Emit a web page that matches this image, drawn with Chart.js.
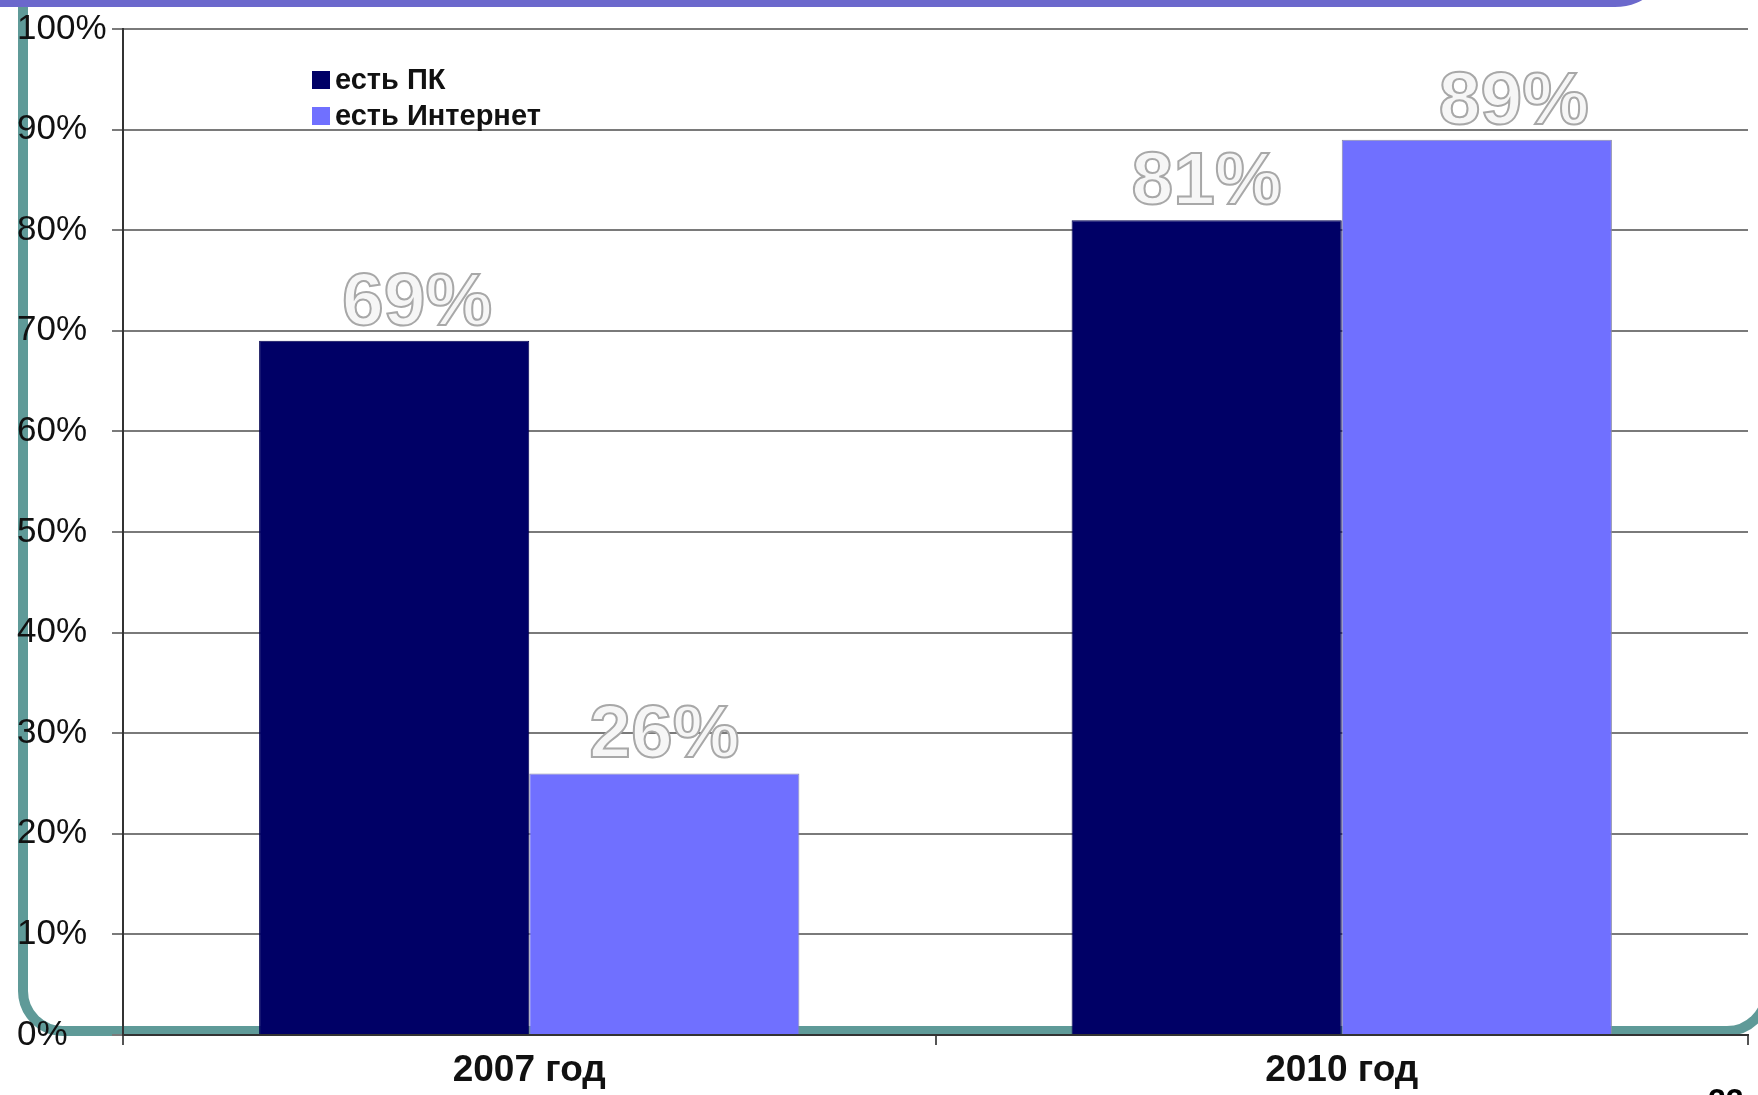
<!DOCTYPE html>
<html>
<head>
<meta charset="utf-8">
<script src="https://cdn.jsdelivr.net/npm/chart.js@4/dist/chart.umd.min.js"></script>
<style>
  body { margin: 0; background: #fff; overflow: hidden; }
  #wrap { position: relative; width: 1758px; height: 1095px; overflow: hidden; }
  #frame { position: absolute; left: 18px; top: -60px; width: 1754px; height: 1096px;
    box-sizing: border-box; border: 10px solid #5f9a98; border-radius: 45px; z-index: 0; }
  #topbar { position: absolute; left: -20px; top: -50px; width: 1692px; height: 57px;
    background: #6b68cc; border-bottom-right-radius: 60px; z-index: 2; }
  #page { position: absolute; left: 1708px; top: 1082px; font: bold 32px "Liberation Sans", Arial, sans-serif;
    color: #000; z-index: 2; }
  #chart { position: absolute; left: 0; top: 0; z-index: 1; }
</style>
</head>
<body>
<div id="wrap">
  <div id="frame"></div>
  <canvas id="chart" width="1758" height="1095"></canvas>
  <div id="topbar"></div>
  <div id="page">22</div>
</div>
<script>
// data
var years = ['2007 год', '2010 год']
var seriesNames = ['есть ПК', 'есть Интернет']
var pcValues = [69, 81]
var netValues = [26, 89]
var yTicks = [0, 10, 20, 30, 40, 50, 60, 70, 80, 90, 100]

var colors = ['#000066', '#7070ff']

// legend drawn inside plot, top-left like the original
var innerLegend = {
  id: 'innerLegend',
  afterDraw: function (chart, args, opts) {
    var ctx = chart.ctx
    ctx.save()
    ctx.font = 'bold 29px "Liberation Sans", Arial, sans-serif'
    ctx.textBaseline = 'middle'
    chart.data.datasets.forEach(function (ds, i) {
      var y = opts.y + i * opts.row
      ctx.fillStyle = ds.backgroundColor
      ctx.fillRect(opts.x, y - 9, 18, 18)
      ctx.fillStyle = '#111'
      ctx.fillText(ds.label, opts.x + 23, y + 1)
    })
    ctx.restore()
  }
}

// outlined value labels above bars (slightly nudged like the slide)
var valueLabels = {
  id: 'valueLabels',
  afterDatasetsDraw: function (chart, args, opts) {
    var ctx = chart.ctx
    ctx.save()
    ctx.font = 'bold 75px "Liberation Sans", Arial, sans-serif'
    ctx.textAlign = 'center'
    ctx.textBaseline = 'alphabetic'
    ctx.lineWidth = 2
    chart.data.datasets.forEach(function (ds, i) {
      chart.getDatasetMeta(i).data.forEach(function (bar, j) {
        var txt = ds.data[j] + '%'
        var dx = opts.shift[i][j]
        ctx.fillStyle = '#f6f6f6'
        ctx.strokeStyle = '#a8a8a8'
        ctx.fillText(txt, bar.x + dx, bar.y - 16)
        ctx.strokeText(txt, bar.x + dx, bar.y - 16)
      })
    })
    ctx.restore()
  }
}

var chart = new Chart(document.getElementById('chart'), {
  type: 'bar',
  data: {
    labels: years,
    datasets: [
      { label: seriesNames[0], data: pcValues, backgroundColor: colors[0], borderColor: '#000050', borderWidth: 1 },
      { label: seriesNames[1], data: netValues, backgroundColor: colors[1], borderColor: '#8a8aa8', borderWidth: 1 }
    ]
  },
  options: {
    responsive: false,
    animation: false,
    categoryPercentage: 0.665,
    barPercentage: 1.0,
    layout: { padding: { top: 29, right: 10, left: 17, bottom: 0 } },
    plugins: {
      legend: { display: false },
      tooltip: { enabled: false },
      innerLegend: { x: 312, y: 80, row: 36 },
      valueLabels: { shift: [[23, 0], [0, 37]] }
    },
    scales: {
      x: {
        afterFit: function (s) { s.height = 60 },
        grid: { display: true, offset: true, drawOnChartArea: false, drawTicks: true, tickLength: 10, color: '#555', lineWidth: 2 },
        border: { color: '#333', width: 2 },
        ticks: {
          color: '#111',
          padding: 4,
          font: { family: '"Liberation Sans", Arial, sans-serif', size: 37, weight: 'bold' }
        }
      },
      y: {
        min: 0,
        max: 100,
        afterFit: function (s) { s.width = 106 },
        afterBuildTicks: function (s) { s.ticks = yTicks.map(function (v) { return { value: v } }) },
        grid: { color: '#7a7a7a', lineWidth: 2, tickLength: 11 },
        border: { color: '#333', width: 2 },
        ticks: {
          color: '#111',
          padding: 4,
          crossAlign: 'far',
          font: { family: '"Liberation Sans", Arial, sans-serif', size: 35 },
          callback: function (v) { return v + '%' }
        }
      }
    }
  },
  plugins: [innerLegend, valueLabels]
})
</script>
</body>
</html>
